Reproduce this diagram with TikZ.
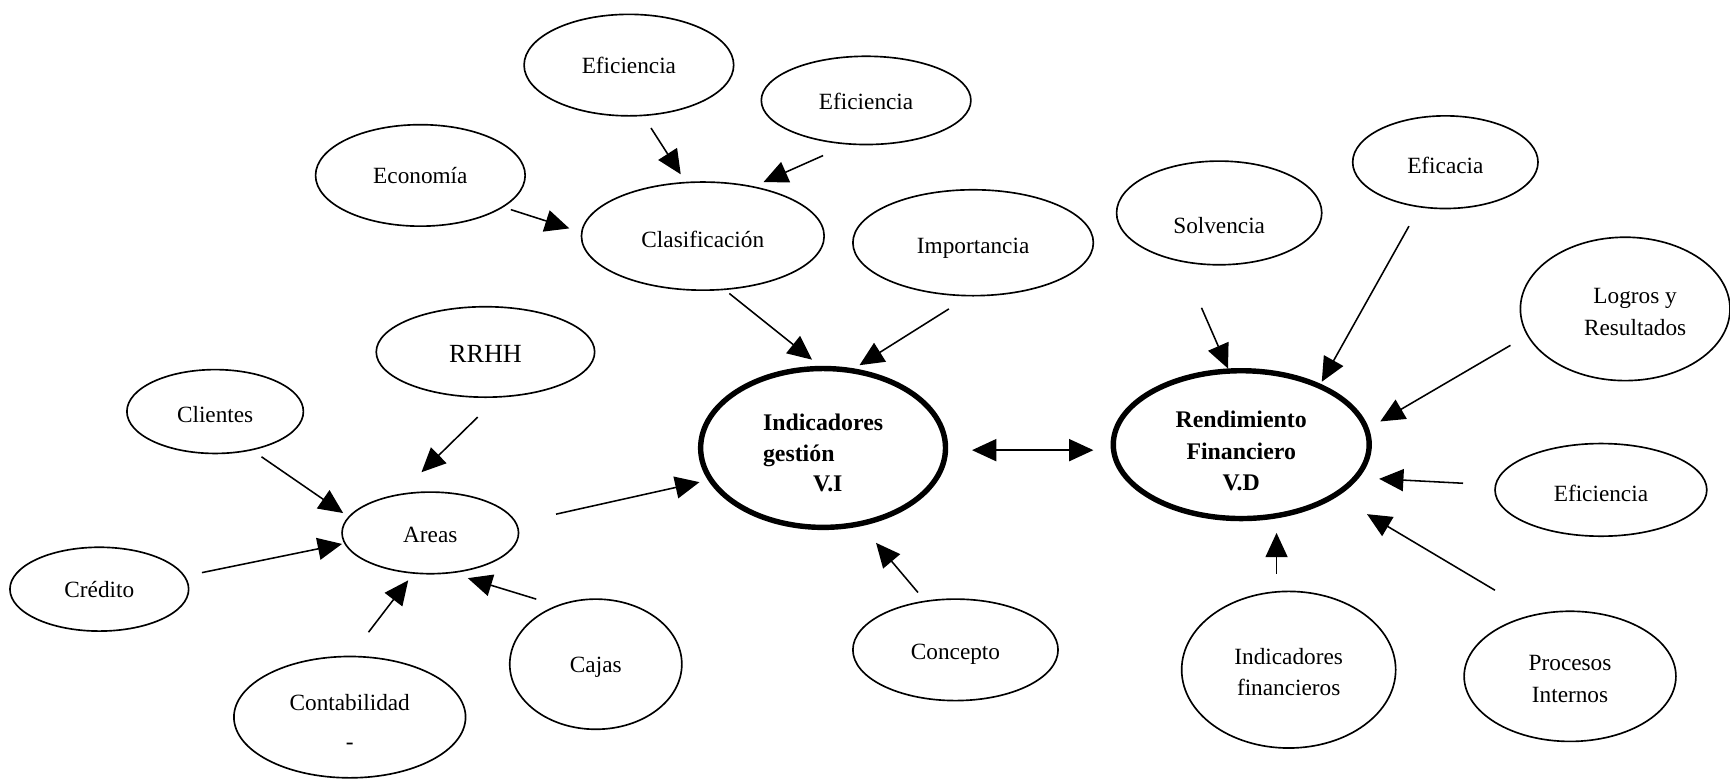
\documentclass[tikz,border=0pt]{standalone}
\usepackage{fontspec}
\setmainfont{Liberation Serif}
\usetikzlibrary{arrows.meta,shapes.geometric}

\tikzset{
  ell/.style={draw, ellipse, line width=0.85pt, inner sep=0pt},
  bigell/.style={ell, line width=2.8pt},
  txt/.style={align=center, inner sep=0pt, font=\fontsize{12}{15.5}\selectfont},
  bigtxt/.style={txt, font=\fontsize{12.3}{15.5}\selectfont\bfseries},
  arr/.style={line width=0.8pt, -{Triangle[length=0.44cm,width=0.4cm]}},
  darr/.style={line width=0.8pt, {Triangle[length=0.44cm,width=0.4cm]}-{Triangle[length=0.44cm,width=0.4cm]}},
}

\begin{document}
\begin{tikzpicture}[x=0.02cm, y=-0.02cm]
\useasboundingbox (0,0) rectangle (1568,706);

% ---- central nodes
\node[bigell, minimum width=4.44cm, minimum height=2.88cm,
  label={[bigtxt, align=left, yshift=-0.09cm]center:{Indicadores\\gestión\\\hspace*{2.1em}V.I}}] (ig) at (746,406) {};
\node[bigell, minimum width=4.64cm, minimum height=2.68cm,
  label={[bigtxt, font=\fontsize{12.3}{16.2}\selectfont\bfseries, yshift=-0.12cm]center:{Rendimiento\\Financiero\\V.D}}] (rf) at (1125,403) {};

% ---- upper left cluster
\node[ell, minimum width=3.8cm, minimum height=1.84cm, label={[txt]center:Eficiencia}] (ef1) at (570,59) {};
\node[ell, minimum width=3.8cm, minimum height=1.6cm, label={[txt, yshift=-0.02cm]center:Eficiencia}] (ef2) at (785,91) {};
\node[ell, minimum width=3.8cm, minimum height=1.84cm, label={[txt]center:Economía}] (eco) at (381,159) {};
\node[ell, minimum width=4.4cm, minimum height=1.96cm, label={[txt, yshift=-0.06cm]center:Clasificación}] (cla) at (637,214) {};
\node[ell, minimum width=4.36cm, minimum height=1.92cm, label={[txt, yshift=-0.1cm]center:Importancia}] (imp) at (882,220) {};
\node[ell, minimum width=3.72cm, minimum height=1.84cm, label={[txt, yshift=-0.08cm]center:Concepto}] (con) at (866,589) {};

% ---- areas cluster
\node[ell, minimum width=3.96cm, minimum height=1.64cm,
  label={[txt, font=\fontsize{13.5}{16}\selectfont, yshift=-0.04cm]center:RRHH}] (rrhh) at (440,319) {};
\node[ell, minimum width=3.2cm, minimum height=1.52cm, label={[txt, yshift=-0.06cm]center:Clientes}] (cli) at (195,373) {};
\node[ell, minimum width=3.2cm, minimum height=1.48cm, label={[txt, yshift=-0.04cm]center:Areas}] (are) at (390,483) {};
\node[ell, minimum width=3.24cm, minimum height=1.52cm, label={[txt]center:Crédito}] (cre) at (90,534) {};
\node[ell, minimum width=4.2cm, minimum height=2.2cm,
  label={[txt, yshift=-0.08cm]center:{Contabilidad\\[4.5pt]-}}] (cont) at (317,650) {};
\node[ell, minimum width=3.12cm, minimum height=2.36cm, label={[txt, yshift=-0.06cm]center:Cajas}] (caj) at (540,602) {};

% ---- right cluster
\node[ell, minimum width=3.72cm, minimum height=1.88cm, label={[txt, yshift=-0.22cm]center:Solvencia}] (sol) at (1105,193) {};
\node[ell, minimum width=3.36cm, minimum height=1.68cm, label={[txt, yshift=-0.06cm]center:Eficacia}] (efa) at (1310,147) {};
\node[ell, minimum width=3.8cm, minimum height=2.6cm,
  label={[txt, font=\fontsize{12}{16.5}\selectfont, xshift=0.18cm, yshift=-0.06cm]center:{Logros y\\Resultados}}] (log) at (1473,280) {};
\node[ell, minimum width=3.84cm, minimum height=1.68cm, label={[txt, yshift=-0.06cm]center:Eficiencia}] (ef3) at (1451,444) {};
\node[ell, minimum width=3.88cm, minimum height=2.84cm,
  label={[txt, font=\fontsize{12}{16}\selectfont, yshift=-0.05cm]center:{Indicadores\\financieros}}] (ifi) at (1168,607) {};
\node[ell, minimum width=3.84cm, minimum height=2.36cm,
  label={[txt, font=\fontsize{12}{16.5}\selectfont, yshift=-0.05cm]center:{Procesos\\Internos}}] (pro) at (1423,613) {};

% ---- connector end points
\coordinate (ef1o) at (590,116);  \coordinate (clai1) at (617,158);
\coordinate (ef2o) at (746,141);  \coordinate (clai2) at (692,165);
\coordinate (ecoo) at (463,190);  \coordinate (clai3) at (516,207);
\coordinate (clao) at (661,266);  \coordinate (igi1) at (736,326);
\coordinate (impo) at (860,280);  \coordinate (igi2) at (779,331);
\coordinate (rrhho) at (433,378); \coordinate (arei1) at (382,428);
\coordinate (clio) at (237,414);  \coordinate (arei2) at (311,465);
\coordinate (creo) at (183,519);  \coordinate (arei3) at (310,493);
\coordinate (conto) at (334,573); \coordinate (arei4) at (370,526);
\coordinate (cajo) at (486,543);  \coordinate (arei5) at (424,524);
\coordinate (areo) at (504,466);  \coordinate (igi3) at (634,437);
\coordinate (cono) at (832,537);  \coordinate (igi4) at (794,492);
\coordinate (igo) at (881,408);   \coordinate (rfi0) at (991,408);
\coordinate (solo) at (1089,279); \coordinate (rfi1) at (1113,334);
\coordinate (efao) at (1277,205); \coordinate (rfi2) at (1198,346);
\coordinate (logo) at (1369,313); \coordinate (rfi3) at (1251,382);
\coordinate (ef3o) at (1326,438); \coordinate (rfi4) at (1250,434);
\coordinate (proo) at (1355,535); \coordinate (rfi5) at (1239,466);
\coordinate (ifio) at (1157,520); \coordinate (rfi6) at (1157,483);

% ---- connectors
\draw[arr] (ef1o) -- (clai1);
\draw[arr] (ef2o) -- (clai2);
\draw[arr] (ecoo) -- (clai3);
\draw[arr] (clao) -- (igi1);
\draw[arr] (impo) -- (igi2);
\draw[arr] (rrhho) -- (arei1);
\draw[arr] (clio) -- (arei2);
\draw[arr] (creo) -- (arei3);
\draw[arr] (conto) -- (arei4);
\draw[arr] (cajo) -- (arei5);
\draw[arr] (areo) -- (igi3);
\draw[arr] (cono) -- (igi4);
\draw[darr] (igo) -- (rfi0);
\draw[arr] (solo) -- (rfi1);
\draw[arr] (efao) -- (rfi2);
\draw[arr] (logo) -- (rfi3);
\draw[arr] (ef3o) -- (rfi4);
\draw[arr] (proo) -- (rfi5);
\draw[arr] (ifio) -- (rfi6);
\end{tikzpicture}
\end{document}
